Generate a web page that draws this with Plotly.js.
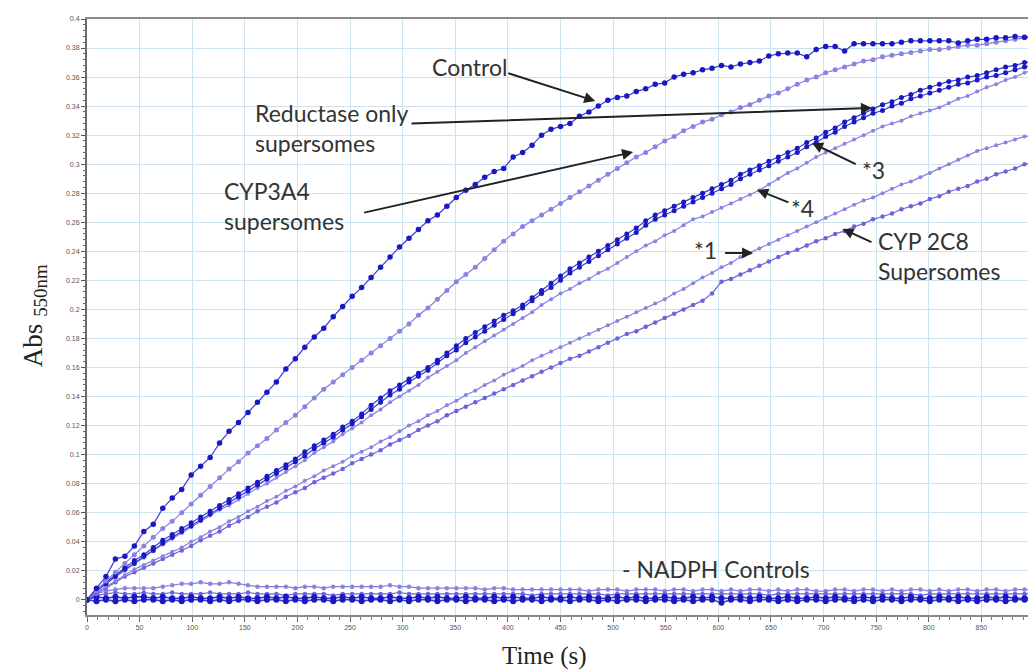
<!DOCTYPE html>
<html>
<head>
<meta charset="utf-8">
<script src="https://cdn.plot.ly/plotly-3.0.1.min.js"></script>
<style>
html,body{margin:0;padding:0;overflow:hidden;background:#fff;}
#chart{width:1040px;height:670px;}
</style>
</head>
<body>
<div id="chart"></div>
<script>
// Sample times (s)
const timeS = [0,9,18,27,36,45,54,63,72,81,
  90,99,108,117,126,135,144,153,162,171,
  180,189,198,207,216,225,234,243,252,261,
  270,279,288,297,306,315,324,333,342,351,
  360,369,378,387,396,405,414,423,432,441,
  450,459,468,477,486,495,504,513,522,531,
  540,549,558,567,576,585,594,603,612,621,
  630,639,648,657,666,675,684,693,702,711,
  720,729,738,747,756,765,774,783,792,801,
  810,819,828,837,846,855,864,873,882,891,
  900];

const absControl = [0,0.008,0.016,0.028,0.030,0.037,0.047,0.052,0.063,0.070,
  0.076,0.086,0.092,0.098,0.108,0.116,0.122,0.129,0.136,0.143,
  0.150,0.159,0.166,0.174,0.181,0.187,0.195,0.202,0.209,0.215,
  0.222,0.229,0.236,0.243,0.249,0.255,0.261,0.265,0.271,0.277,
  0.282,0.286,0.291,0.295,0.297,0.305,0.308,0.313,0.320,0.324,
  0.326,0.328,0.333,0.336,0.340,0.344,0.346,0.347,0.350,0.352,
  0.355,0.356,0.360,0.362,0.363,0.365,0.366,0.368,0.367,0.369,
  0.370,0.371,0.3745,0.376,0.3765,0.3765,0.374,0.379,0.381,0.381,
  0.378,0.383,0.383,0.383,0.383,0.383,0.384,0.385,0.385,0.385,
  0.385,0.385,0.3835,0.385,0.386,0.386,0.387,0.387,0.388,0.3875,
  0.388];

const absLine2 = [0,0.006,0.013,0.019,0.025,0.031,0.037,0.043,0.049,0.054,
  0.060,0.066,0.072,0.078,0.084,0.090,0.095,0.101,0.106,0.111,
  0.117,0.122,0.127,0.133,0.139,0.145,0.150,0.155,0.160,0.165,
  0.170,0.175,0.180,0.185,0.190,0.196,0.201,0.207,0.213,0.219,
  0.224,0.229,0.235,0.241,0.247,0.252,0.257,0.261,0.265,0.269,
  0.273,0.277,0.281,0.285,0.289,0.293,0.297,0.301,0.305,0.308,
  0.312,0.316,0.319,0.323,0.326,0.329,0.331,0.334,0.336,0.339,
  0.341,0.344,0.347,0.349,0.352,0.355,0.358,0.360,0.363,0.365,
  0.367,0.369,0.371,0.372,0.374,0.375,0.376,0.377,0.378,0.379,
  0.379,0.380,0.381,0.382,0.382,0.383,0.384,0.385,0.386,0.387,
  0.387];

const absStar3a = [0,0.007,0.012,0.017,0.022,0.027,0.031,0.036,0.041,0.045,
  0.049,0.053,0.057,0.061,0.065,0.069,0.073,0.077,0.081,0.085,
  0.089,0.093,0.097,0.102,0.106,0.110,0.114,0.119,0.123,0.128,
  0.134,0.139,0.144,0.148,0.152,0.156,0.160,0.165,0.170,0.175,
  0.180,0.184,0.188,0.192,0.196,0.199,0.203,0.208,0.213,0.218,
  0.223,0.228,0.232,0.236,0.240,0.244,0.248,0.252,0.256,0.261,
  0.265,0.268,0.271,0.274,0.277,0.280,0.283,0.286,0.289,0.293,
  0.296,0.299,0.302,0.305,0.308,0.311,0.315,0.318,0.322,0.325,
  0.329,0.332,0.335,0.338,0.341,0.343,0.346,0.348,0.351,0.353,
  0.355,0.357,0.358,0.360,0.361,0.363,0.365,0.367,0.368,0.370,
  0.371];

const absStar3b = [0,0.006,0.011,0.016,0.021,0.025,0.030,0.034,0.039,0.043,
  0.047,0.051,0.055,0.059,0.063,0.067,0.071,0.075,0.079,0.083,
  0.087,0.091,0.095,0.099,0.104,0.108,0.112,0.117,0.121,0.126,
  0.131,0.136,0.141,0.145,0.150,0.154,0.158,0.163,0.168,0.172,
  0.177,0.181,0.185,0.189,0.193,0.197,0.201,0.206,0.211,0.215,
  0.220,0.225,0.229,0.233,0.237,0.241,0.245,0.249,0.253,0.258,
  0.262,0.265,0.268,0.271,0.274,0.277,0.280,0.283,0.286,0.290,
  0.293,0.296,0.299,0.302,0.305,0.308,0.312,0.315,0.319,0.322,
  0.326,0.329,0.332,0.335,0.337,0.340,0.342,0.345,0.347,0.349,
  0.351,0.353,0.355,0.356,0.358,0.360,0.361,0.363,0.365,0.367,
  0.368];

const absStar4 = [0,0.006,0.011,0.016,0.020,0.025,0.029,0.034,0.038,0.042,
  0.046,0.050,0.054,0.058,0.062,0.065,0.069,0.073,0.077,0.080,
  0.084,0.088,0.092,0.096,0.101,0.105,0.109,0.114,0.118,0.122,
  0.127,0.131,0.136,0.140,0.144,0.148,0.153,0.157,0.161,0.165,
  0.170,0.174,0.178,0.182,0.186,0.190,0.194,0.198,0.203,0.207,
  0.211,0.214,0.218,0.221,0.225,0.228,0.232,0.236,0.240,0.244,
  0.247,0.251,0.254,0.258,0.262,0.264,0.267,0.270,0.273,0.276,
  0.279,0.282,0.286,0.290,0.294,0.297,0.301,0.305,0.308,0.311,
  0.314,0.317,0.320,0.323,0.326,0.328,0.330,0.333,0.335,0.337,
  0.339,0.342,0.345,0.347,0.350,0.353,0.355,0.358,0.360,0.363,
  0.365];

const absStar1 = [0,0.005,0.009,0.013,0.017,0.021,0.024,0.027,0.030,0.033,
  0.036,0.040,0.043,0.047,0.050,0.054,0.057,0.061,0.064,0.068,
  0.071,0.075,0.078,0.082,0.085,0.089,0.092,0.095,0.099,0.102,
  0.105,0.109,0.112,0.116,0.120,0.123,0.127,0.130,0.134,0.137,
  0.141,0.144,0.148,0.151,0.155,0.158,0.161,0.165,0.168,0.171,
  0.174,0.177,0.180,0.183,0.186,0.189,0.192,0.195,0.198,0.201,
  0.204,0.207,0.211,0.214,0.218,0.222,0.225,0.229,0.232,0.236,
  0.239,0.242,0.245,0.248,0.251,0.254,0.257,0.260,0.263,0.266,
  0.269,0.272,0.275,0.277,0.280,0.283,0.286,0.288,0.291,0.294,
  0.297,0.300,0.303,0.306,0.309,0.311,0.313,0.315,0.317,0.319,
  0.320];

const absCYP2C8 = [0,0.004,0.008,0.012,0.016,0.019,0.022,0.025,0.028,0.031,
  0.034,0.037,0.041,0.044,0.047,0.051,0.054,0.057,0.061,0.064,
  0.067,0.071,0.074,0.077,0.081,0.084,0.087,0.090,0.094,0.097,
  0.100,0.103,0.107,0.110,0.113,0.117,0.120,0.123,0.127,0.130,
  0.133,0.136,0.139,0.142,0.145,0.148,0.151,0.154,0.157,0.160,
  0.163,0.166,0.168,0.171,0.174,0.177,0.180,0.183,0.185,0.188,
  0.191,0.194,0.197,0.200,0.203,0.206,0.211,0.219,0.221,0.224,
  0.227,0.230,0.233,0.236,0.239,0.241,0.244,0.247,0.249,0.252,
  0.254,0.257,0.259,0.262,0.264,0.266,0.269,0.271,0.273,0.276,
  0.278,0.281,0.283,0.285,0.288,0.290,0.293,0.295,0.297,0.300,
  0.301];

const absNadph1 = [0,0.004,0.006,0.007,0.008,0.008,0.008,0.008,0.009,0.010,
  0.011,0.011,0.012,0.011,0.011,0.012,0.011,0.010,0.009,0.009,
  0.009,0.009,0.008,0.009,0.009,0.008,0.009,0.009,0.009,0.009,
  0.009,0.009,0.010,0.009,0.009,0.008,0.008,0.008,0.008,0.008,
  0.008,0.008,0.007,0.008,0.008,0.007,0.007,0.007,0.007,0.007,
  0.007,0.007,0.007,0.006,0.007,0.007,0.007,0.006,0.007,0.007,
  0.007,0.006,0.007,0.007,0.006,0.007,0.007,0.006,0.007,0.006,
  0.007,0.007,0.006,0.007,0.006,0.007,0.007,0.006,0.006,0.007,
  0.007,0.006,0.007,0.007,0.006,0.007,0.006,0.007,0.007,0.006,
  0.007,0.006,0.007,0.007,0.006,0.007,0.007,0.006,0.007,0.007,
  0.007];

const absNadph2 = [0,0.003,0.004,0.005,0.004,0.004,0.005,0.004,0.004,0.005,
  0.004,0.004,0.004,0.005,0.004,0.004,0.004,0.005,0.004,0.004,
  0.004,0.003,0.004,0.004,0.004,0.004,0.003,0.004,0.004,0.004,
  0.004,0.004,0.004,0.005,0.004,0.004,0.004,0.004,0.004,0.004,
  0.004,0.004,0.004,0.004,0.004,0.004,0.004,0.003,0.004,0.004,
  0.004,0.004,0.004,0.004,0.004,0.003,0.004,0.004,0.004,0.004,
  0.004,0.004,0.004,0.004,0.004,0.004,0.004,0.004,0.004,0.004,
  0.004,0.004,0.003,0.004,0.004,0.004,0.004,0.004,0.004,0.004,
  0.004,0.004,0.004,0.004,0.004,0.004,0.004,0.004,0.003,0.004,
  0.004,0.004,0.004,0.004,0.004,0.004,0.004,0.004,0.004,0.004,
  0.004];

const absNadph3 = [0,0.002,0.001,0.002,0.001,0.002,0.002,0.001,0.002,0.001,
  0.001,0.002,0.001,0.001,0.002,0.001,0.002,0.001,0.001,0.002,
  0.001,0.002,0.001,0.001,0.002,0.001,0.001,0.002,0.001,0.002,
  0.001,0.001,0.002,0.001,0.001,0.002,0.001,0.002,0.001,0.001,
  0.002,0.001,0.001,0.002,0.001,0.002,0.001,0.001,0.002,0.001,
  0.001,0.002,0.001,0.002,0.001,0.001,0.002,0.001,0.002,0.001,
  0.001,0.002,0.001,0.001,0.002,0.001,0.002,0.001,0.001,0.002,
  0.001,0.002,0.001,0.001,0.002,0.001,0.001,0.002,0.001,0.002,
  0.001,0.001,0.002,0.001,0.002,0.001,0.001,0.002,0.001,0.001,
  0.002,0.001,0.002,0.001,0.001,0.002,0.001,0.002,0.001,0.001,
  0.002];

const absNadph4 = [0,-0.001,0,-0.001,0,-0.001,0,0,-0.001,0,
  -0.001,0,0,-0.001,0,-0.001,0,0,-0.001,0,
  0,-0.001,0,-0.001,0,0,-0.001,0,0,-0.001,
  0,0,-0.001,0,-0.001,0,0,-0.001,0,0,
  -0.001,0,0,-0.001,0,-0.001,0,0,-0.001,0,
  0,-0.001,0,0,-0.001,0,-0.001,0,0,-0.001,
  0,0,-0.001,0,-0.001,0,0,-0.002,0,0,
  -0.001,0,0,-0.001,0,-0.001,0,0,-0.001,0,
  0,-0.001,0,-0.001,0,0,-0.001,0,0,-0.001,
  0,0,-0.001,0,-0.001,0,0,-0.001,0,0,
  -0.001];

const xTitle = 'Time (s)';
const yTitle = 'Abs <sub>550nm</sub>';

const DARK = 'rgb(25,25,195)';
const DARKLINE = 'rgb(60,60,210)';
const LIGHT = 'rgb(140,130,225)';
const LIGHTLINE = 'rgb(135,125,225)';
const MED = 'rgb(110,100,218)';

function tr(y, mcol, lcol, msize, lw) {
  return {x: timeS, y: y, type: 'scatter', mode: 'lines+markers',
    line: {color: lcol, width: lw},
    marker: {color: mcol, size: msize, line: {width: 0}},
    hoverinfo: 'skip', showlegend: false};
}

const data = [
  tr(absNadph1, LIGHT, LIGHTLINE, 4.5, 1.2),
  tr(absNadph2, MED, MED, 4.5, 1.2),
  tr(absNadph3, DARK, DARKLINE, 6, 1.6),
  tr(absNadph4, DARK, DARKLINE, 6, 1.6),
  tr(absCYP2C8, MED, MED, 4.5, 1.2),
  tr(absStar1, LIGHT, LIGHTLINE, 4, 1.2),
  tr(absStar4, LIGHT, LIGHTLINE, 4, 1.2),
  tr(absStar3b, DARK, DARKLINE, 5, 1.2),
  tr(absStar3a, DARK, DARKLINE, 5, 1.2),
  tr(absLine2, LIGHT, LIGHTLINE, 5, 1.2),
  tr(absControl, DARK, DARKLINE, 5.5, 1.2)
];

const TXT = {family: 'Lato, "Open Sans", sans-serif', size: 23, color: '#333'};
function lbl(x, y, text, anchor) {
  return {x: x, y: y, xref: 'x', yref: 'y', text: text, showarrow: false,
    xanchor: anchor || 'left', yanchor: 'middle', align: 'left', font: TXT};
}
function arr(ax, ay, x, y) {
  return {x: x, y: y, ax: ax, ay: ay, xref: 'x', yref: 'y', axref: 'x', ayref: 'y',
    text: '', showarrow: true, arrowhead: 2, arrowsize: 1.1, arrowwidth: 2, arrowcolor: '#222'};
}

const annotations = [
  lbl(326, 0.367, 'Control'),
  lbl(158, 0.3246, 'Reductase only<br>supersomes'),
  lbl(128, 0.2713, 'CYP3A4<br>supersomes'),
  lbl(747, 0.296, '*3', 'center'),
  lbl(680, 0.270, '*4', 'center'),
  lbl(588, 0.241, '*1', 'center'),
  lbl(750, 0.2368, 'CYP 2C8<br>Supersomes'),
  lbl(507, 0.0213, '- NADPH Controls'),
  arr(399, 0.363, 483, 0.3435),
  arr(307, 0.328, 746, 0.3387),
  arr(262, 0.2664, 519, 0.3084),
  arr(732, 0.2995, 689, 0.3146),
  arr(668, 0.2733, 637, 0.2823),
  arr(605, 0.2389, 633, 0.2389),
  arr(747, 0.2458, 718, 0.2554),
  {x: 0.4836, y: -0.069, xref: 'paper', yref: 'paper', text: xTitle, showarrow: false,
    xanchor: 'center', yanchor: 'middle', font: {family: '"Liberation Serif", "Times New Roman", serif', size: 25, color: '#222'}},
  {x: -0.055, y: 0.503, xref: 'paper', yref: 'paper', text: yTitle, showarrow: false, textangle: -90,
    xanchor: 'center', yanchor: 'middle', font: {family: '"Liberation Serif", "Times New Roman", serif', size: 27, color: '#222'}}
];

const layout = {
  width: 1040, height: 670,
  margin: {l: 87, r: 6, t: 19, b: 55},
  paper_bgcolor: '#fff', plot_bgcolor: '#fff',
  showlegend: false,
  xaxis: {range: [0, 900], dtick: 50, tick0: 0, showgrid: true, gridcolor: 'rgb(205,228,240)', gridwidth: 1,
    zeroline: false, showline: true, linecolor: '#8a8a8a', linewidth: 2, mirror: true,
    ticks: 'outside', ticklen: 5, tickcolor: '#666', tickwidth: 1,
    minor: {dtick: 10, ticks: 'outside', ticklen: 3, tickcolor: '#777', showgrid: false},
    tickfont: {family: '"Liberation Sans", Arial, sans-serif', size: 7, color: '#555'}},
  yaxis: {range: [-0.0105, 0.4], dtick: 0.02, tick0: 0, showgrid: true, gridcolor: 'rgb(205,228,240)', gridwidth: 1,
    zeroline: false, showline: true, linecolor: '#6a6a6a', linewidth: 2,
    ticks: 'outside', ticklen: 4, tickcolor: '#555', tickwidth: 1,
    minor: {dtick: 0.004, ticks: 'outside', ticklen: 2, tickcolor: '#666', showgrid: false},
    tickfont: {family: '"Liberation Sans", Arial, sans-serif', size: 7, color: '#555'}},
  annotations: annotations
};

Plotly.newPlot('chart', data, layout, {staticPlot: true, displayModeBar: false});
</script>
</body>
</html>
